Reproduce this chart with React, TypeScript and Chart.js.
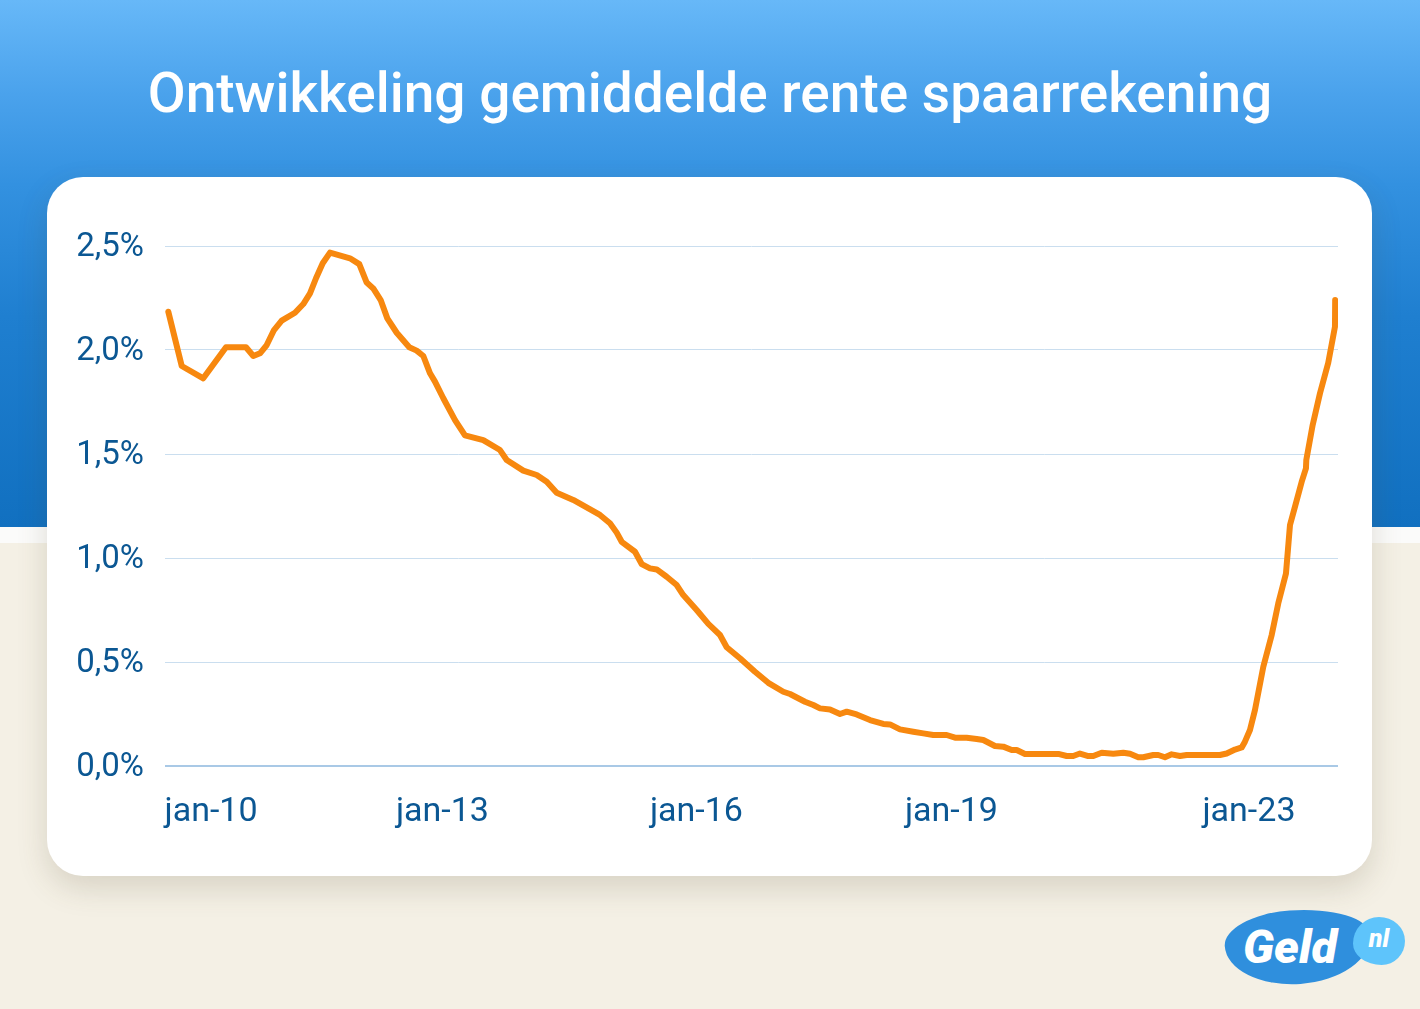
import React, { useEffect, useRef } from "react";
import { Chart, registerables } from "chart.js";

Chart.register(...registerables);

// x position in months from the left edge of the plot, y = average savings rate (%)
const xPositions: number[] = [
  0.47, 2.37, 5.42, 8.64, 11.47, 12.51, 13.46, 14.41, 15.44, 16.53,
  18.41, 19.59, 20.54, 21.39, 22.34, 23.37, 26.2, 27.52, 28.57, 29.5,
  30.55, 31.49, 32.82, 34.6, 35.65, 36.59, 37.54, 38.24, 39.42, 41.08,
  42.49, 45.08, 47.45, 48.4, 50.75, 52.65, 54.07, 55.48, 57.83, 61.61,
  63.03, 63.98, 64.69, 66.57, 67.52, 68.7, 69.65, 71.06, 72.48, 73.41,
  75.31, 76.96, 78.61, 79.56, 81.44, 83.57, 85.45, 87.58, 88.53, 90.65,
  91.83, 92.78, 94.19, 95.61, 96.56, 97.97, 99.86, 101.74, 102.69, 104.11,
  105.99, 107.41, 108.82, 110.72, 111.9, 113.55, 114.97, 115.91, 117.56, 118.74,
  119.93, 120.64, 121.81, 126.53, 127.72, 128.65, 129.6, 130.78, 131.49, 132.68,
  134.32, 135.74, 136.69, 137.86, 138.57, 139.99, 140.69, 141.64, 142.59, 143.77,
  144.72, 149.43, 150.38, 151.56, 152.51, 152.97, 153.68, 154.39, 155.57, 156.76,
  157.69, 158.78, 159.35, 160.06, 161.01, 161.61, 161.66, 162.56, 163.6, 164.77,
  165.72, 165.75,
];

const rateValues: number[] = [
  2.184, 1.923, 1.864, 2.013, 2.013, 1.971, 1.984, 2.024, 2.096, 2.141,
  2.179, 2.221, 2.272, 2.345, 2.417, 2.468, 2.441, 2.413, 2.324, 2.296,
  2.24, 2.152, 2.083, 2.013, 1.997, 1.971, 1.888, 1.848, 1.768, 1.663,
  1.59, 1.567, 1.519, 1.471, 1.42, 1.399, 1.367, 1.314, 1.279, 1.207,
  1.167, 1.122, 1.078, 1.03, 0.971, 0.95, 0.945, 0.91, 0.87, 0.822,
  0.75, 0.683, 0.63, 0.571, 0.518, 0.453, 0.4, 0.357, 0.346, 0.309,
  0.293, 0.277, 0.272, 0.25, 0.261, 0.248, 0.221, 0.202, 0.2, 0.176,
  0.165, 0.157, 0.149, 0.149, 0.136, 0.136, 0.13, 0.125, 0.096, 0.093,
  0.077, 0.077, 0.058, 0.058, 0.048, 0.048, 0.06, 0.048, 0.048, 0.064,
  0.059, 0.064, 0.059, 0.042, 0.042, 0.053, 0.053, 0.042, 0.056, 0.048,
  0.053, 0.053, 0.06, 0.079, 0.089, 0.117, 0.173, 0.269, 0.477, 0.63,
  0.782, 0.926, 1.159, 1.247, 1.367, 1.431, 1.471, 1.639, 1.792, 1.939,
  2.112, 2.24,
];

const tickPositions: number[] = [6.52, 39.3, 75.28, 111.4, 153.54];
const tickLabels: string[] = ["jan-10", "jan-13", "jan-16", "jan-19", "jan-23"];

const yTicks: number[] = [0, 0.5, 1, 1.5, 2, 2.5];

const TITLE = "Ontwikkeling gemiddelde rente spaarrekening";

const FONT = "Roboto, 'Noto Sans', sans-serif";
const TEXT_BLUE = "#0b5793";

export default function App() {
  const canvasRef = useRef<HTMLCanvasElement | null>(null);

  useEffect(() => {
    const canvas = canvasRef.current;
    if (!canvas) return;
    const chart = new Chart(canvas, {
      type: "line",
      data: {
        datasets: [
          {
            data: xPositions.map((x, i) => ({ x, y: rateValues[i] })),
            borderColor: "#f7880f",
            borderWidth: 6,
            pointRadius: 0,
            tension: 0,
            borderJoinStyle: "round",
            borderCapStyle: "round",
            fill: false,
          },
        ],
      },
      options: {
        animation: false,
        responsive: false,
        maintainAspectRatio: false,
        layout: { padding: { top: 69, right: 34, left: 0, bottom: 0 } },
        plugins: {
          legend: { display: false },
          tooltip: { enabled: false },
          title: { display: false },
        },
        scales: {
          x: {
            type: "linear",
            min: 0,
            max: 166.15,
            grid: { display: false, drawTicks: false },
            border: { display: false },
            afterBuildTicks: (axis: any) => {
              axis.ticks = tickPositions.map((v) => ({ value: v }));
            },
            afterFit: (scale: any) => {
              scale.height = 110;
            },
            ticks: {
              autoSkip: false,
              maxRotation: 0,
              minRotation: 0,
              padding: 26,
              color: TEXT_BLUE,
              font: { family: FONT, size: 34 },
              callback: (_v: any, i: number) => tickLabels[i],
            },
          },
          y: {
            min: 0,
            max: 2.5,
            afterBuildTicks: (axis: any) => {
              axis.ticks = yTicks.map((v) => ({ value: v }));
            },
            afterFit: (scale: any) => {
              scale.width = 118;
            },
            grid: {
              drawTicks: false,
              color: (ctx: any) => (ctx.tick && ctx.tick.value === 0 ? "#a9c9e6" : "#cadeef"),
              lineWidth: (ctx: any) => (ctx.tick && ctx.tick.value === 0 ? 2 : 1),
            },
            border: { display: false },
            ticks: {
              padding: 21,
              labelOffset: 2,
              color: TEXT_BLUE,
              font: { family: FONT, size: 33 },
              callback: (v: any) => Number(v).toFixed(1).replace(".", ",") + "%",
            },
          },
        },
      },
    } as any);
    return () => chart.destroy();
  }, []);

  return (
    <div
      style={{
        position: "fixed",
        left: 0,
        top: 0,
        width: 1420,
        height: 1009,
        overflow: "hidden",
        background: "#f4f0e5",
        fontFamily: FONT,
      }}
    >
      <div
        style={{
          position: "absolute",
          left: 0,
          top: 0,
          width: 1420,
          height: 527,
          background: "linear-gradient(180deg, #67b8f8 0%, #4aa2ec 18%, #3391e0 35%, #1f7fd0 60%, #1170c0 100%)",
        }}
      />
      <div
        style={{
          position: "absolute",
          left: 0,
          top: 527,
          width: 1420,
          height: 16,
          background: "#fbfbfa",
        }}
      />
      <div
        style={{
          position: "absolute",
          left: 0,
          top: 63,
          width: 1420,
          textAlign: "center",
          color: "#ffffff",
          fontSize: 55,
          fontWeight: 500,
          lineHeight: "60px",
          whiteSpace: "nowrap",
        }}
      >
        {TITLE}
      </div>
      <div
        style={{
          position: "absolute",
          left: 47,
          top: 177,
          width: 1325,
          height: 699,
          background: "#ffffff",
          borderRadius: 36,
          boxShadow: "0 12px 30px rgba(90, 80, 50, 0.18)",
        }}
      />
      <canvas
        ref={canvasRef}
        width={1325}
        height={699}
        style={{ position: "absolute", left: 47, top: 177, width: 1325, height: 699 }}
      />
      {/* Geld.nl logo */}
      <div
        style={{
          position: "absolute",
          left: 1225,
          top: 910,
          width: 146,
          height: 74,
          background: "#2f8fdd",
          borderRadius: "46% 54% 50% 50% / 42% 40% 60% 58%",
          transform: "rotate(-4deg)",
        }}
      />
      <div
        style={{
          position: "absolute",
          left: 1243,
          top: 917,
          color: "#ffffff",
          fontSize: 47,
          fontWeight: 900,
          fontStyle: "italic",
          lineHeight: "60px",
          letterSpacing: 0,
        }}
      >
        Geld
      </div>
      <div
        style={{
          position: "absolute",
          left: 1353,
          top: 917,
          width: 52,
          height: 48,
          background: "#5ec4fb",
          borderRadius: "50% 50% 45% 55% / 55% 50% 50% 45%",
          color: "#ffffff",
          fontSize: 25,
          fontWeight: 900,
          fontStyle: "italic",
          lineHeight: "44px",
          textAlign: "center",
        }}
      >
        nl
      </div>
    </div>
  );
}
